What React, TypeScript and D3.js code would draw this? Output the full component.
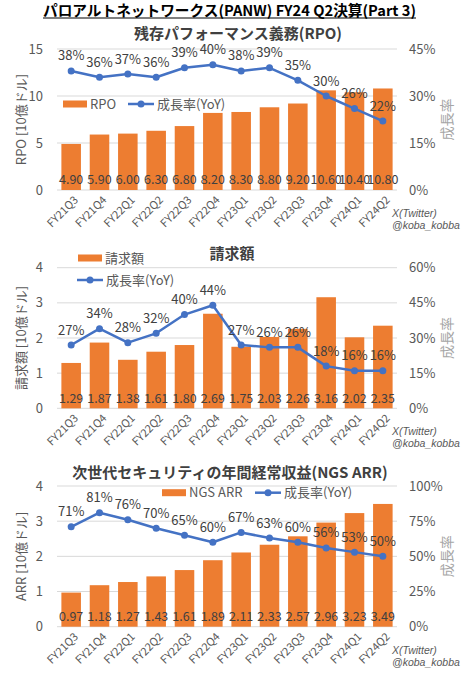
import React from "react";
import * as d3 from "d3";

const categories = ["FY21Q3","FY21Q4","FY22Q1","FY22Q2","FY22Q3","FY22Q4","FY23Q1","FY23Q2","FY23Q3","FY23Q4","FY24Q1","FY24Q2"];

const rpoValues = [4.9, 5.9, 6.0, 6.3, 6.8, 8.2, 8.3, 8.8, 9.2, 10.6, 10.4, 10.8];
const rpoGrowth = [38, 36, 37, 36, 39, 40, 38, 39, 35, 30, 26, 22];

const billingsValues = [1.29, 1.87, 1.38, 1.61, 1.80, 2.69, 1.75, 2.03, 2.26, 3.16, 2.02, 2.35];
const billingsGrowth = [27, 34, 28, 32, 40, 44, 27, 26, 26, 18, 16, 16];

const arrValues = [0.97, 1.18, 1.27, 1.43, 1.61, 1.89, 2.11, 2.33, 2.57, 2.96, 3.23, 3.49];
const arrGrowth = [71, 81, 76, 70, 65, 60, 67, 63, 60, 56, 53, 50];

const rpoTicks = [0, 5, 10, 15];
const rpoPctTicks = [0, 15, 30, 45];
const billTicks = [0, 1, 2, 3, 4];
const billPctTicks = [0, 15, 30, 45, 60];
const arrTicks = [0, 1, 2, 3, 4];
const arrPctTicks = [0, 25, 50, 75, 100];

const mainTitle = "パロアルトネットワークス(PANW) FY24 Q2決算(Part 3)";

const ORANGE = "#ED7D31";
const BLUE = "#4472C4";
const GRID = "#D9D9D9";
const AXIS = "#595959";
const LABEL = "#404040";
const FONT = "'Noto Sans CJK JP', 'Noto Sans', sans-serif";

type PanelProps = {
  title: string;
  titleX: number;
  titleY: number;
  barName: string;
  yTitle: string;
  values: number[];
  growth: number[];
  ticks: number[];
  pctTicks: number[];
  top: number;
  bottom: number;
  legendPos: { x1: number; y1: number; x2: number; y2: number };
};

const PLOT_L = 57;
const PLOT_R = 397;

function Panel(p: PanelProps) {
  const x = d3.scaleBand<string>().domain(categories).range([PLOT_L, PLOT_R]).paddingInner(0.31).paddingOuter(0.155);
  const yMax = p.ticks[p.ticks.length - 1];
  const pMax = p.pctTicks[p.pctTicks.length - 1];
  const y = d3.scaleLinear().domain([0, yMax]).range([p.bottom, p.top]);
  const yp = d3.scaleLinear().domain([0, pMax]).range([p.bottom, p.top]);
  const cx = (c: string) => (x(c) as number) + x.bandwidth() / 2;
  const line = d3.line<number>().x((_, i) => cx(categories[i])).y((d) => yp(d));
  const midY = (p.top + p.bottom) / 2;
  const fmt = d3.format(".2f");
  const lp = p.legendPos;
  return (
    <g fontFamily={FONT}>
      <text x={p.titleX} y={p.titleY} textAnchor="middle" fontSize={15} fontWeight="bold" fill={LABEL}>{p.title}</text>
      {p.ticks.map((t) => (
        <g key={"g" + t}>
          <line x1={PLOT_L} x2={PLOT_R} y1={y(t)} y2={y(t)} stroke={GRID} strokeWidth={1} />
          <text x={43} y={y(t)} dy="0.35em" textAnchor="end" fontSize={13} fill={AXIS}>{t}</text>
        </g>
      ))}
      {p.pctTicks.map((t) => (
        <text key={"p" + t} x={409} y={yp(t)} dy="0.35em" textAnchor="start" fontSize={13} fill={AXIS}>{t + "%"}</text>
      ))}
      <text transform={`translate(21,${midY}) rotate(-90)`} textAnchor="middle" dy="0.35em" fontSize={13} fill={AXIS}>{p.yTitle}</text>
      <text transform={`translate(447,${midY}) rotate(-90)`} textAnchor="middle" dy="0.35em" fontSize={14} fill="#A6A6A6">成長率</text>
      {p.values.map((v, i) => (
        <rect key={"b" + i} x={x(categories[i])} y={y(v)} width={x.bandwidth()} height={p.bottom - y(v)} fill={ORANGE} />
      ))}
      {p.values.map((v, i) => (
        <text key={"v" + i} x={cx(categories[i])} y={p.bottom - 10} dy="0.35em" textAnchor="middle" fontSize={12.5} fill={LABEL}>{fmt(v)}</text>
      ))}
      <path d={line(p.growth) || ""} fill="none" stroke={BLUE} strokeWidth={2.5} strokeLinejoin="round" />
      {p.growth.map((g, i) => (
        <circle key={"c" + i} cx={cx(categories[i])} cy={yp(g)} r={3.5} fill={BLUE} />
      ))}
      {p.growth.map((g, i) => (
        <text key={"gl" + i} x={cx(categories[i])} y={yp(g) - 15} dy="0.35em" textAnchor="middle" fontSize={13} fill={LABEL}>{g + "%"}</text>
      ))}
      {categories.map((c) => (
        <text key={"x" + c} transform={`translate(${cx(c) + 5},${p.bottom + 8}) rotate(-45)`} textAnchor="end" dy="0.35em" fontSize={11} fill={AXIS}>{c}</text>
      ))}
      <text x={392} y={p.bottom + 27} fontFamily="'Liberation Sans', Arial, sans-serif" fontSize={10.5} fontStyle="italic" fill={AXIS}>X(Twitter)</text>
      <text x={392} y={p.bottom + 39} fontFamily="'Liberation Sans', Arial, sans-serif" fontSize={10.5} fontStyle="italic" fill={AXIS}>@koba_kobba</text>
      <rect x={lp.x1} y={lp.y1 - 3.5} width={24} height={7} fill={ORANGE} />
      <text x={lp.x1 + 27} y={lp.y1} dy="0.35em" fontSize={13} fill={AXIS}>{p.barName}</text>
      <line x1={lp.x2} x2={lp.x2 + 26} y1={lp.y2} y2={lp.y2} stroke={BLUE} strokeWidth={2.5} />
      <circle cx={lp.x2 + 13} cy={lp.y2} r={3.5} fill={BLUE} />
      <text x={lp.x2 + 29} y={lp.y2} dy="0.35em" fontSize={13} fill={AXIS}>成長率(YoY)</text>
    </g>
  );
}

export default function App() {
  return (
    <svg width={461} height={680} style={{ position: "absolute", left: 0, top: 0, background: "#fff" }}>
      <rect x={0} y={0} width={461} height={680} fill="#fff" />
      <text x={229.5} y={15.5} textAnchor="middle" fontFamily={FONT} fontSize={14.5} fontWeight="bold" fill="#000" textLength={373} lengthAdjust="spacingAndGlyphs">{mainTitle}</text>
      <line x1={43} x2={416} y1={18} y2={18} stroke="#000" strokeWidth={1.2} />
      <Panel title="残存パフォーマンス義務(RPO)" titleX={238} titleY={39} barName="RPO" yTitle="RPO [10億ドル]"
        values={rpoValues} growth={rpoGrowth} ticks={rpoTicks} pctTicks={rpoPctTicks}
        top={49} bottom={190} legendPos={{ x1: 63, y1: 104, x2: 128, y2: 104 }} />
      <Panel title="請求額" titleX={232} titleY={259} barName="請求額" yTitle="請求額 [10億ドル]"
        values={billingsValues} growth={billingsGrowth} ticks={billTicks} pctTicks={billPctTicks}
        top={267.7} bottom={408.3} legendPos={{ x1: 78, y1: 258, x2: 77, y2: 280 }} />
      <Panel title="次世代セキュリティの年間経常収益(NGS ARR)" titleX={230} titleY={478} barName="NGS ARR" yTitle="ARR [10億ドル]"
        values={arrValues} growth={arrGrowth} ticks={arrTicks} pctTicks={arrPctTicks}
        top={486} bottom={626.7} legendPos={{ x1: 162, y1: 492.7, x2: 255, y2: 492.7 }} />
    </svg>
  );
}
